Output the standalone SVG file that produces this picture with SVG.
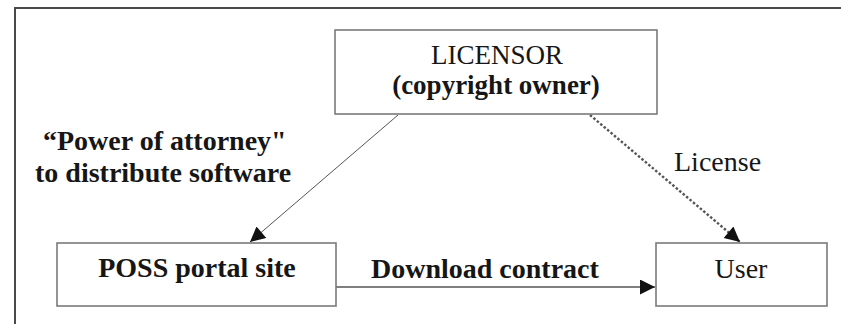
<svg xmlns="http://www.w3.org/2000/svg" width="841" height="324" viewBox="0 0 841 324">
  <style>
    .box { fill: #ffffff; stroke: #7a7a7a; stroke-width: 1.6; }
    .t { font-family: "Liberation Serif", "Times New Roman", serif; font-size: 28px; fill: #161616; }
    .b { font-weight: bold; }
    .mid { text-anchor: middle; }
    .edge { fill: none; stroke: #555555; }
  </style>
  <defs>
    <marker id="head" viewBox="0 0 10 10" refX="10" refY="5" markerWidth="19" markerHeight="15" markerUnits="userSpaceOnUse" orient="auto">
      <path d="M0,0 L10,5 L0,10 z" fill="#111111"/>
    </marker>
  </defs>

  <rect width="841" height="324" fill="#ffffff"/>
  <!-- outer frame: only the top and left edges are visible -->
  <path d="M15,324 L15,8 L841,8" fill="none" stroke="#4a4a4a" stroke-width="2"/>

  <g id="connectors">
    <line class="edge" x1="398" y1="115" x2="250" y2="242" stroke-width="1" marker-end="url(#head)"/>
    <line class="edge" x1="590" y1="115" x2="740" y2="242" stroke="#1a1a1a" stroke-width="2.4" stroke-dasharray="2.5 2" marker-end="url(#head)"/>
    <line class="edge" x1="336" y1="287" x2="655" y2="287" stroke-width="1.4" marker-end="url(#head)"/>
    <text class="t b" x="43" y="150">“Power of attorney"</text>
    <text class="t b" x="35" y="182">to distribute software</text>
    <text class="t" x="674" y="171">License</text>
    <text class="t b" x="371" y="278">Download contract</text>
  </g>

  <g id="licensor">
    <rect class="box" x="335" y="30" width="322" height="84"/>
    <text class="t mid" x="497" y="64" style="font-size:27px">LICENSOR</text>
    <text class="t b mid" x="496" y="94" style="font-size:27px">(copyright owner)</text>
  </g>

  <g id="poss-portal">
    <rect class="box" x="57" y="243" width="279" height="63"/>
    <text class="t b mid" x="197" y="277">POSS portal site</text>
  </g>

  <g id="user">
    <rect class="box" x="656" y="243" width="171" height="63"/>
    <text class="t mid" x="741" y="278">User</text>
  </g>
</svg>
